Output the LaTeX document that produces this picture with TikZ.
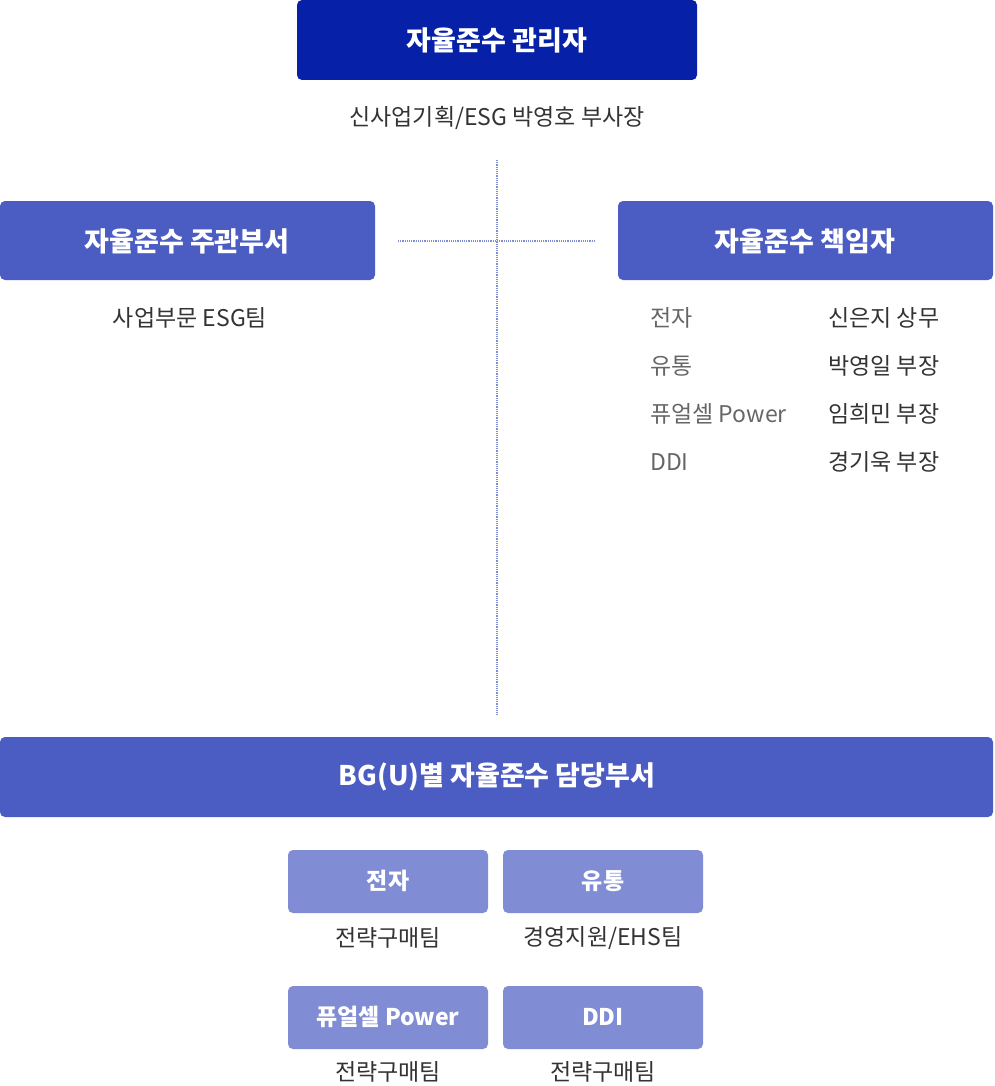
\documentclass[tikz,border=0pt]{standalone}
\usepackage{fontspec}
\setmainfont{Noto Sans CJK KR}
\definecolor{dblue}{HTML}{0620A8}
\definecolor{mblue}{HTML}{4B5CC3}
\definecolor{lblue}{HTML}{808DD4}
\definecolor{txt}{HTML}{333333}
\definecolor{gtxt}{HTML}{666666}
\begin{document}
\begin{tikzpicture}[x=1pt,y=-1pt,
  box/.style={rounded corners=5pt,inner sep=0pt,text=white,font=\fontsize{27}{30}\selectfont\bfseries},
  sbox/.style={rounded corners=5pt,inner sep=0pt,text=white,font=\fontsize{23}{26}\selectfont\bfseries,fill=lblue},
  lab/.style={text=txt,font=\fontsize{23}{26}\selectfont,inner sep=0pt},
  glab/.style={text=gtxt,font=\fontsize{23}{26}\selectfont,inner sep=0pt,anchor=west},
  dlab/.style={text=txt,font=\fontsize{23}{26}\selectfont,inner sep=0pt,anchor=west},
  dot/.style={draw=lblue,densely dotted,line width=1.2pt}]
\useasboundingbox (0,0) rectangle (994,1086);
\fill[dblue,rounded corners=5pt] (297,0) rectangle (697,80);
\node[box] (top) at (497,40) {자율준수 관리자};
\node[lab] (topl) at (497,118) {신사업기획/ESG 박영호 부사장};
\coordinate (vt) at (497,160);
\coordinate (vb) at (497,715);
\coordinate (hl) at (398,241);
\coordinate (hr) at (596,241);
\draw[dot] (vt) -- (vb);
\draw[dot] (hl) -- (hr);
\fill[mblue,rounded corners=5pt] (0,201) rectangle (375,280);
\node[box] (lb) at (187,241) {자율준수 주관부서};
\node[lab] (lbl) at (190,318) {사업부문 ESG팀};
\fill[mblue,rounded corners=5pt] (618,201) rectangle (993,280);
\node[box] (rb) at (805,241) {자율준수 책임자};
\node[glab] (r1) at (650,318) {전자};
\node[glab] (r2) at (650,366) {유통};
\node[glab] (r3) at (650,414) {퓨얼셀 Power};
\node[glab] (r4) at (650,462) {DDI};
\node[dlab] (s1) at (828,318) {신은지 상무};
\node[dlab] (s2) at (828,366) {박영일 부장};
\node[dlab] (s3) at (828,414) {임희민 부장};
\node[dlab] (s4) at (828,462) {경기욱 부장};
\fill[mblue,rounded corners=5pt] (0,737) rectangle (993,817);
\node[box] (bb) at (497,777) {BG(U)별 자율준수 담당부서};
\fill[lblue,rounded corners=5pt] (288,850) rectangle (488,913);
\fill[lblue,rounded corners=5pt] (503,850) rectangle (703,913);
\fill[lblue,rounded corners=5pt] (288,986) rectangle (488,1049);
\fill[lblue,rounded corners=5pt] (503,986) rectangle (703,1049);
\node[sbox,fill=none] (b1) at (388,881) {전자};
\node[sbox,fill=none] (b2) at (603,881) {유통};
\node[sbox,fill=none] (b3) at (388,1017) {퓨얼셀 Power};
\node[sbox,fill=none] (b4) at (603,1017) {DDI};
\node[lab] (l1) at (388,938) {전략구매팀};
\node[lab] (l2) at (603,938) {경영지원/EHS팀};
\node[lab] (l3) at (388,1072) {전략구매팀};
\node[lab] (l4) at (603,1072) {전략구매팀};
\end{tikzpicture}
\end{document}
